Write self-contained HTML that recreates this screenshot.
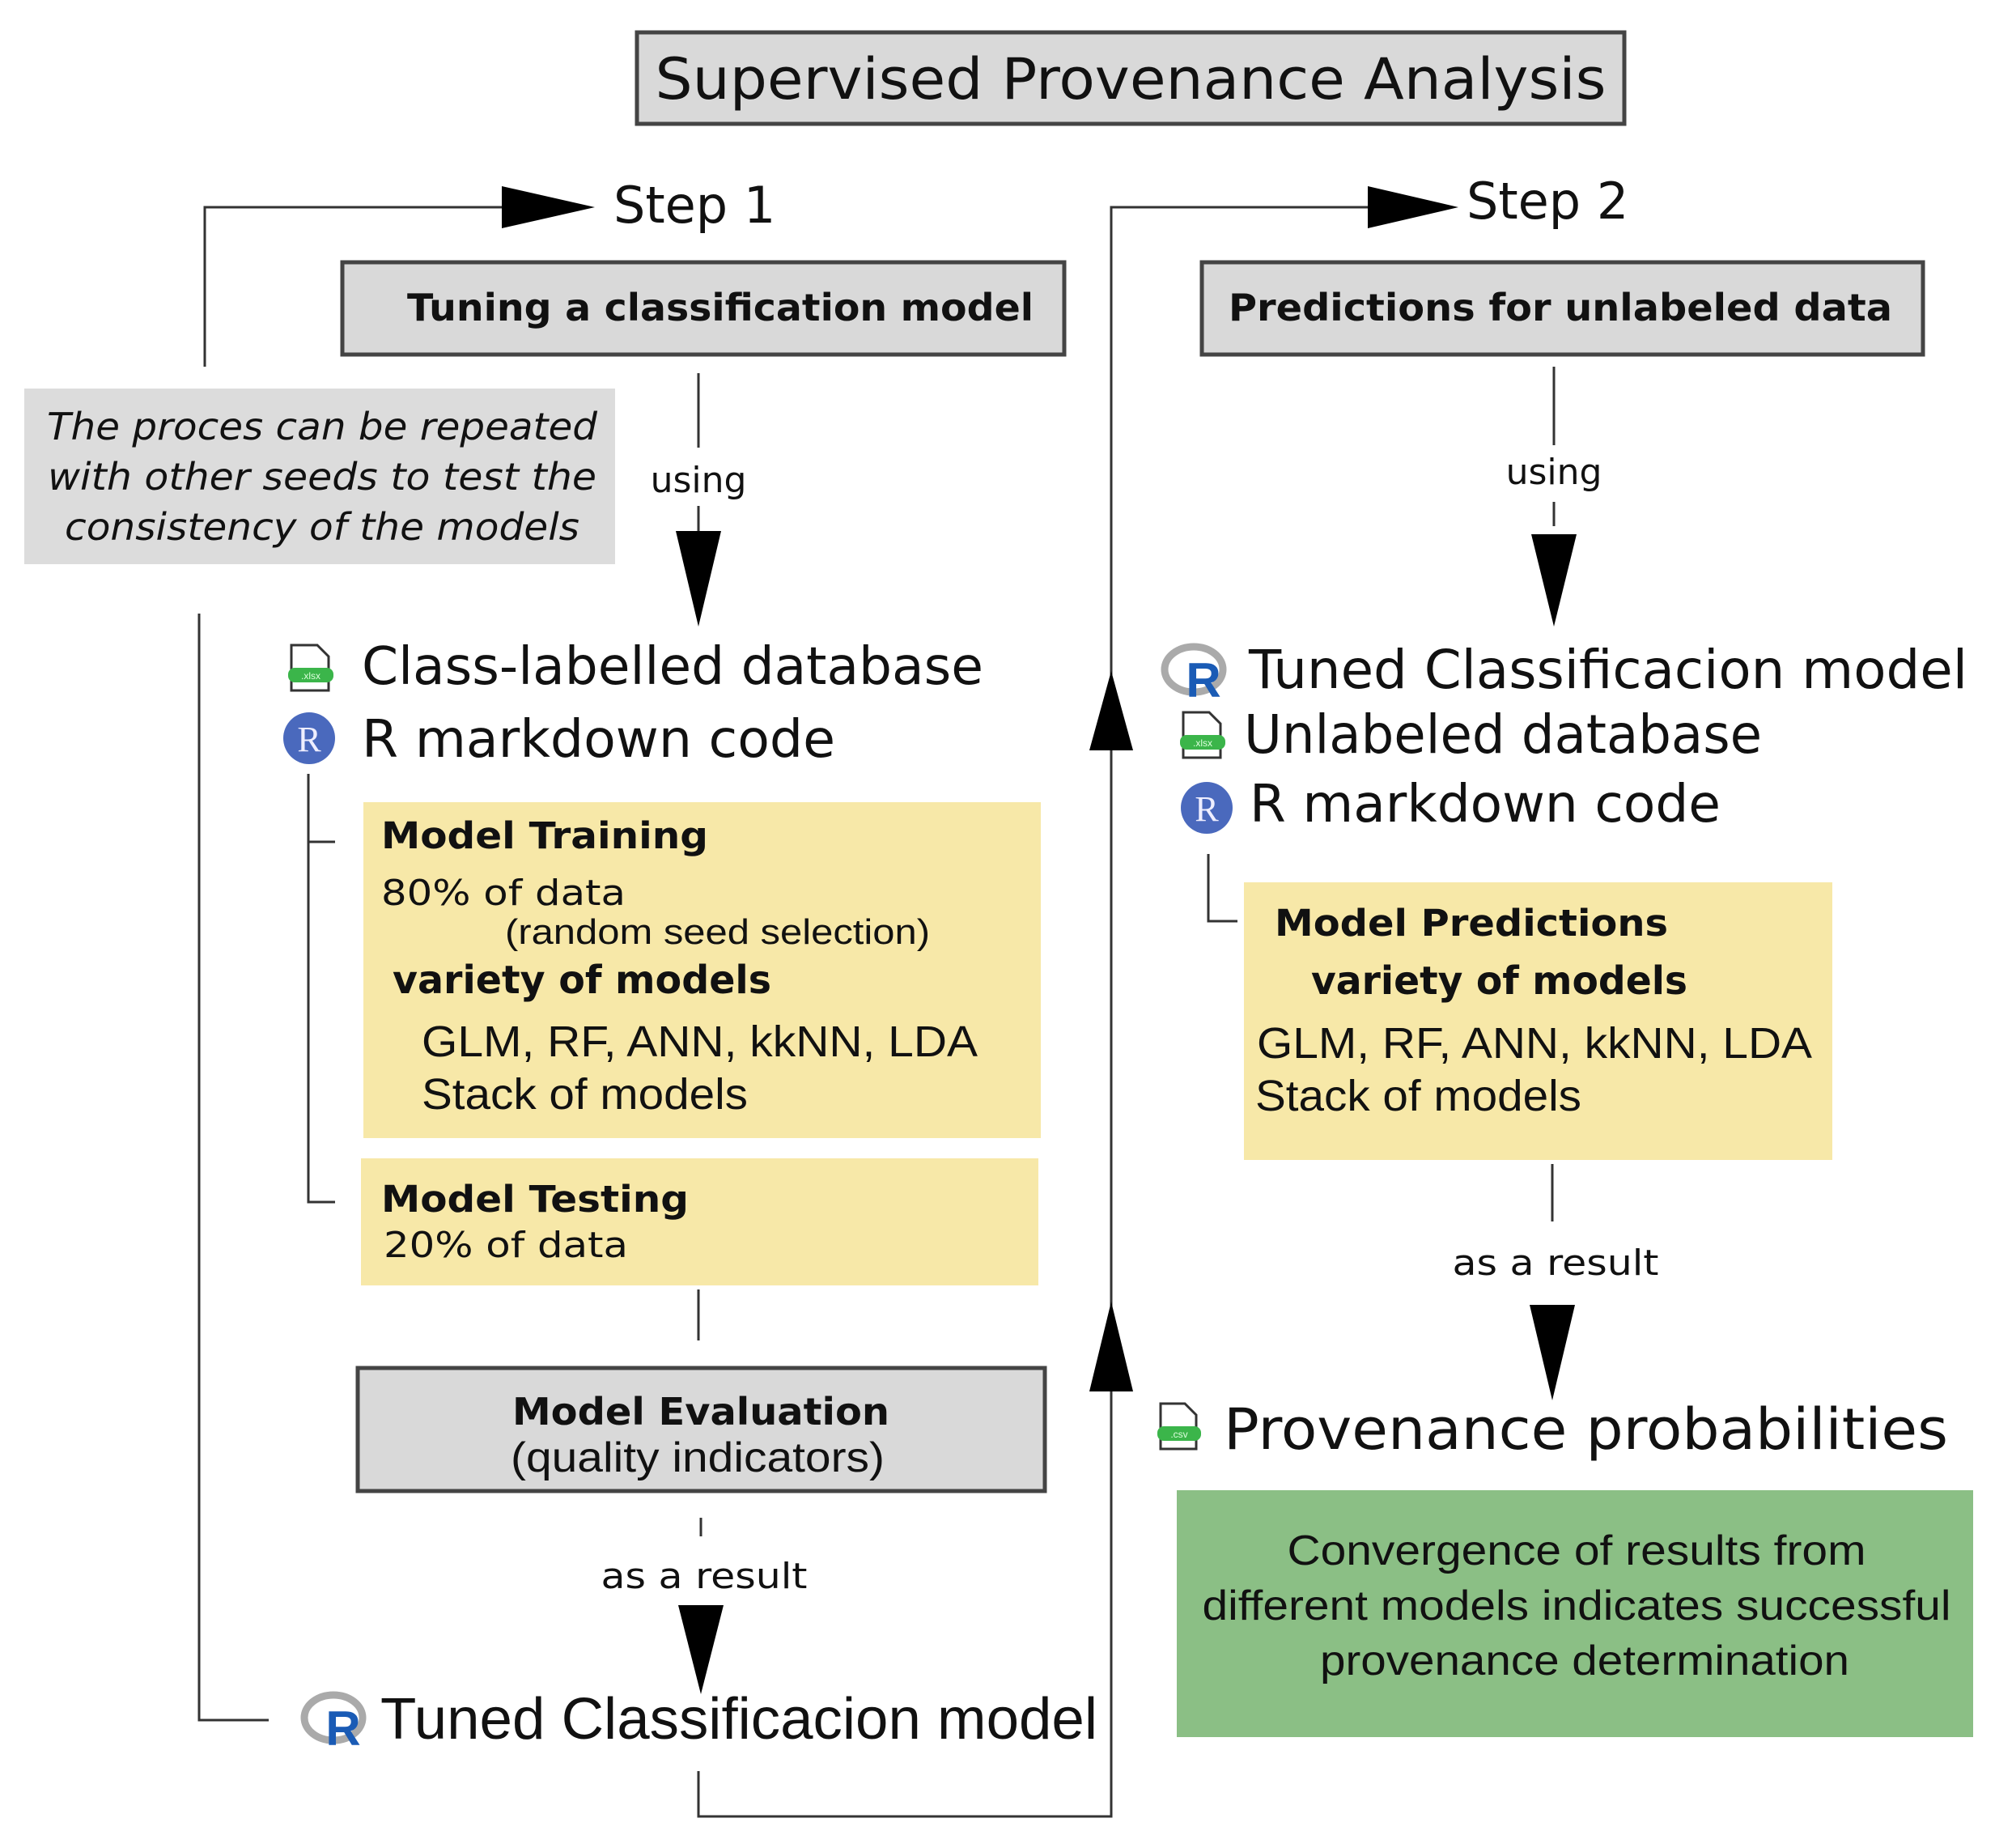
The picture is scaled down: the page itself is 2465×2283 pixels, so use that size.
<!DOCTYPE html>
<html><head><meta charset="utf-8"><style>
html,body{margin:0;padding:0;background:#fff}
svg{display:block}
.d{font-family:"DejaVu Sans",sans-serif;fill:#111}
.a{font-family:"Liberation Sans",sans-serif;fill:#111}
.b{font-weight:bold}
</style></head><body>
<svg width="2465" height="2283" viewBox="0 0 2465 2283" xmlns="http://www.w3.org/2000/svg">
<defs>
<g id="xlsx"><path d="M4 2 H36 L50 16 V58 H4 Z" fill="#fff" stroke="#333" stroke-width="3"/><rect x="0" y="30" width="56" height="18" rx="8" fill="#3bb54a"/><text x="28" y="44" font-family="Liberation Sans" font-size="12" fill="#dfd" text-anchor="middle">.xlsx</text></g>
<g id="rlogo"><circle cx="32" cy="32" r="32" fill="#4a69bd"/><text x="32" y="48" font-family="Liberation Serif" font-size="44" fill="#eef" text-anchor="middle">R</text></g>
<g id="rbig"><ellipse cx="40" cy="34" rx="36" ry="28" fill="none" stroke="#aaa" stroke-width="9"/><text x="52" y="68" font-family="Liberation Sans" font-weight="bold" font-size="60" fill="#1a5bb5" text-anchor="middle">R</text></g>
</defs>
<g stroke="#444" stroke-width="3" fill="none">
<rect x="787" y="40" width="1220" height="113" fill="#d9d9d9" stroke-width="5"/>
<rect x="423" y="324" width="892" height="114" fill="#d9d9d9" stroke-width="5"/>
<rect x="1485" y="324" width="891" height="114" fill="#d9d9d9" stroke-width="5"/>
<rect x="442" y="1690" width="849" height="152" fill="#d9d9d9" stroke-width="5"/>
</g>
<rect x="30" y="480" width="730" height="217" fill="#dcdcdc"/>
<rect x="449" y="991" width="837" height="415" fill="#f7e8a8"/>
<rect x="446" y="1431" width="837" height="157" fill="#f7e8a8"/>
<rect x="1537" y="1090" width="727" height="343" fill="#f7e8a8"/>
<rect x="1454" y="1841" width="984" height="305" fill="#8bbf85"/>
<g stroke="#333" stroke-width="3" fill="none">
<polyline points="253,453 253,256 630,256"/>
<polyline points="246,758 246,2125 332,2125"/>
<line x1="863" y1="461" x2="863" y2="553"/><line x1="863" y1="625" x2="863" y2="660"/>
<polyline points="381,956 381,1485 414,1485"/><line x1="381" y1="1040" x2="414" y2="1040"/>
<line x1="863" y1="1593" x2="863" y2="1656"/><line x1="866" y1="1875" x2="866" y2="1898"/>
<polyline points="863,2188 863,2244 1373,2244 1373,256 1700,256"/>
<line x1="1920" y1="453" x2="1920" y2="550"/><line x1="1920" y1="620" x2="1920" y2="650"/>
<polyline points="1493,1055 1493,1138 1529,1138"/>
<line x1="1918" y1="1438" x2="1918" y2="1509"/>
</g>
<g fill="#000">
<polygon points="620,230 620,282 735,256"/>
<polygon points="1690,230 1690,282 1802,256"/>
<polygon points="835,656 891,656 863,774"/>
<polygon points="1892,660 1948,660 1920,774"/>
<polygon points="1346,927 1400,927 1373,829"/>
<polygon points="1346,1719 1400,1719 1373,1608"/>
<polygon points="1890,1612 1946,1612 1918,1730"/>
<polygon points="838,1983 894,1983 866,2093"/>
</g>
<text class="d" x="1397" y="122" font-size="70" text-anchor="middle" textLength="1175" lengthAdjust="spacingAndGlyphs">Supervised Provenance Analysis</text>
<text class="d" x="758" y="275" font-size="62">Step 1</text>
<text class="d" x="1812" y="270" font-size="62">Step 2</text>
<text class="d b" x="890" y="396" font-size="46" text-anchor="middle" textLength="774" lengthAdjust="spacingAndGlyphs">Tuning a classification model</text>
<text class="d b" x="1928" y="396" font-size="46" text-anchor="middle" textLength="820" lengthAdjust="spacingAndGlyphs">Predictions for unlabeled data</text>
<g class="d" font-style="italic" font-size="46" text-anchor="middle">
<text x="398" y="543" textLength="680" lengthAdjust="spacingAndGlyphs">The proces can be repeated</text>
<text x="398" y="605" textLength="678" lengthAdjust="spacingAndGlyphs">with other seeds to test the</text>
<text x="398" y="667" textLength="636" lengthAdjust="spacingAndGlyphs">consistency of the models</text>
</g>
<text class="d" x="863" y="608" font-size="44" text-anchor="middle">using</text>
<text class="d" x="1920" y="598" font-size="44" text-anchor="middle">using</text>
<use href="#xlsx" x="356" y="795"/>
<use href="#rlogo" x="350" y="880"/>
<text class="d" x="447" y="845" font-size="64" textLength="768" lengthAdjust="spacingAndGlyphs">Class-labelled database</text>
<text class="d" x="447" y="935" font-size="64" textLength="585" lengthAdjust="spacingAndGlyphs">R markdown code</text>
<text class="d b" x="471" y="1048" font-size="45" textLength="404" lengthAdjust="spacingAndGlyphs">Model Training</text>
<text class="d" x="471" y="1118" font-size="44" textLength="302" lengthAdjust="spacingAndGlyphs">80% of data</text>
<text class="a" x="624" y="1166" font-size="44" textLength="525" lengthAdjust="spacingAndGlyphs">(random seed selection)</text>
<text class="d b" x="485" y="1227" font-size="48" textLength="468" lengthAdjust="spacingAndGlyphs">variety of models</text>
<text class="a" x="521" y="1305" font-size="54" textLength="687" lengthAdjust="spacingAndGlyphs">GLM, RF, ANN, kkNN, LDA</text>
<text class="a" x="521" y="1370" font-size="54" textLength="403" lengthAdjust="spacingAndGlyphs">Stack of models</text>
<text class="d b" x="471" y="1497" font-size="45" textLength="380" lengthAdjust="spacingAndGlyphs">Model Testing</text>
<text class="d" x="474" y="1553" font-size="44" textLength="302" lengthAdjust="spacingAndGlyphs">20% of data</text>
<text class="d b" x="866" y="1760" font-size="46" text-anchor="middle" textLength="466" lengthAdjust="spacingAndGlyphs">Model Evaluation</text>
<text class="a" x="862" y="1818" font-size="52" text-anchor="middle" textLength="462" lengthAdjust="spacingAndGlyphs">(quality indicators)</text>
<text class="d" x="870" y="1962" font-size="44" text-anchor="middle" textLength="255" lengthAdjust="spacingAndGlyphs">as a result</text>
<use href="#rbig" x="372" y="2088"/>
<text class="a" x="470" y="2148" font-size="72" textLength="886" lengthAdjust="spacingAndGlyphs">Tuned Classificacion model</text>
<use href="#rbig" x="1435" y="793"/>
<text class="d" x="1543" y="850" font-size="66" textLength="888" lengthAdjust="spacingAndGlyphs">Tuned Classificacion model</text>
<use href="#xlsx" x="1458" y="878"/>
<text class="d" x="1537" y="930" font-size="66" textLength="640" lengthAdjust="spacingAndGlyphs">Unlabeled database</text>
<use href="#rlogo" x="1459" y="966"/>
<text class="d" x="1544" y="1015" font-size="64" textLength="582" lengthAdjust="spacingAndGlyphs">R markdown code</text>
<text class="d b" x="1575" y="1156" font-size="45" textLength="486" lengthAdjust="spacingAndGlyphs">Model Predictions</text>
<text class="d b" x="1620" y="1228" font-size="48" textLength="465" lengthAdjust="spacingAndGlyphs">variety of models</text>
<text class="a" x="1553" y="1307" font-size="54" textLength="686" lengthAdjust="spacingAndGlyphs">GLM, RF, ANN, kkNN, LDA</text>
<text class="a" x="1551" y="1372" font-size="54" textLength="403" lengthAdjust="spacingAndGlyphs">Stack of models</text>
<text class="d" x="1922" y="1575" font-size="44" text-anchor="middle" textLength="255" lengthAdjust="spacingAndGlyphs">as a result</text>
<g transform="translate(1430,1732)"><path d="M4 2 H34 L48 16 V58 H4 Z" fill="#fff" stroke="#333" stroke-width="3"/><rect x="0" y="30" width="54" height="18" rx="8" fill="#3bb54a"/><text x="27" y="44" font-family="Liberation Sans" font-size="12" fill="#dfd" text-anchor="middle">.csv</text></g>
<text class="d" x="1512" y="1790" font-size="70" textLength="895" lengthAdjust="spacingAndGlyphs">Provenance probabilities</text>
<g class="a" font-size="52" text-anchor="middle">
<text x="1948" y="1933" textLength="715" lengthAdjust="spacingAndGlyphs">Convergence of results from</text>
<text x="1948" y="2001" textLength="925" lengthAdjust="spacingAndGlyphs">different models indicates successful</text>
<text x="1958" y="2069" textLength="654" lengthAdjust="spacingAndGlyphs">provenance determination</text>
</g>
</svg>
</body></html>
